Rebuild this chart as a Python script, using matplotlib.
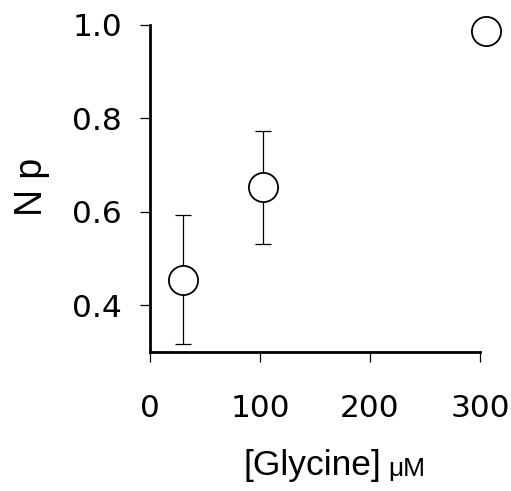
import matplotlib
matplotlib.use("Agg")
import matplotlib.pyplot as plt

# Data
glycine = [30, 103, 305]
np_mean = [0.455, 0.653, 0.987]
err_low = [0.137, 0.121, 0.0]
err_high = [0.139, 0.121, 0.0]
x_ticks = [0, 100, 200, 300]
y_ticks = [0.4, 0.6, 0.8, 1.0]
y_ticklabels = ["0.4", "0.6", "0.8", "1.0"]

plt.rcParams['font.family'] = ['Liberation Sans', 'DejaVu Sans']

fig = plt.figure(figsize=(5.11, 4.91), dpi=100)
ax = fig.add_axes([150/511, 1-352/491, 330/511, 327/491])

ax.errorbar(glycine, np_mean, yerr=[err_low, err_high], fmt='none',
            ecolor='black', elinewidth=0.9, capsize=5.5, capthick=0.9, zorder=2,
            clip_on=False)
ax.plot(glycine, np_mean, 'o', ms=21, mfc='white', mec='black', mew=1.3,
        zorder=3, clip_on=False)

ax.set_xlim(0, 300)
ax.set_ylim(0.3, 1.0)
ax.set_xticks(x_ticks)
ax.set_xticklabels([str(v) for v in x_ticks])
ax.set_yticks(y_ticks)
ax.set_yticklabels(y_ticklabels)

for s in ['top', 'right']:
    ax.spines[s].set_visible(False)
for s in ['left', 'bottom']:
    ax.spines[s].set_linewidth(2.0)

ax.tick_params(axis='both', direction='out', length=7, width=0.9)
ax.tick_params(axis='y', pad=13)
ax.tick_params(axis='x', pad=23)
for lab in ax.get_xticklabels() + ax.get_yticklabels():
    lab.set_fontfamily(['DejaVu Sans'])
    lab.set_fontsize(22.5)

fig.text(32/511, 1-187/491, "N p", fontsize=27, rotation=90,
         ha='center', va='center')
fig.text(243/511, 1-465/491, "[Glycine]", fontsize=25.5, ha='left', va='center')
fig.text(388/511, 1-469/491, "\u03bcM", fontsize=19, ha='left', va='center')

fig.savefig("out.png", dpi=100)
